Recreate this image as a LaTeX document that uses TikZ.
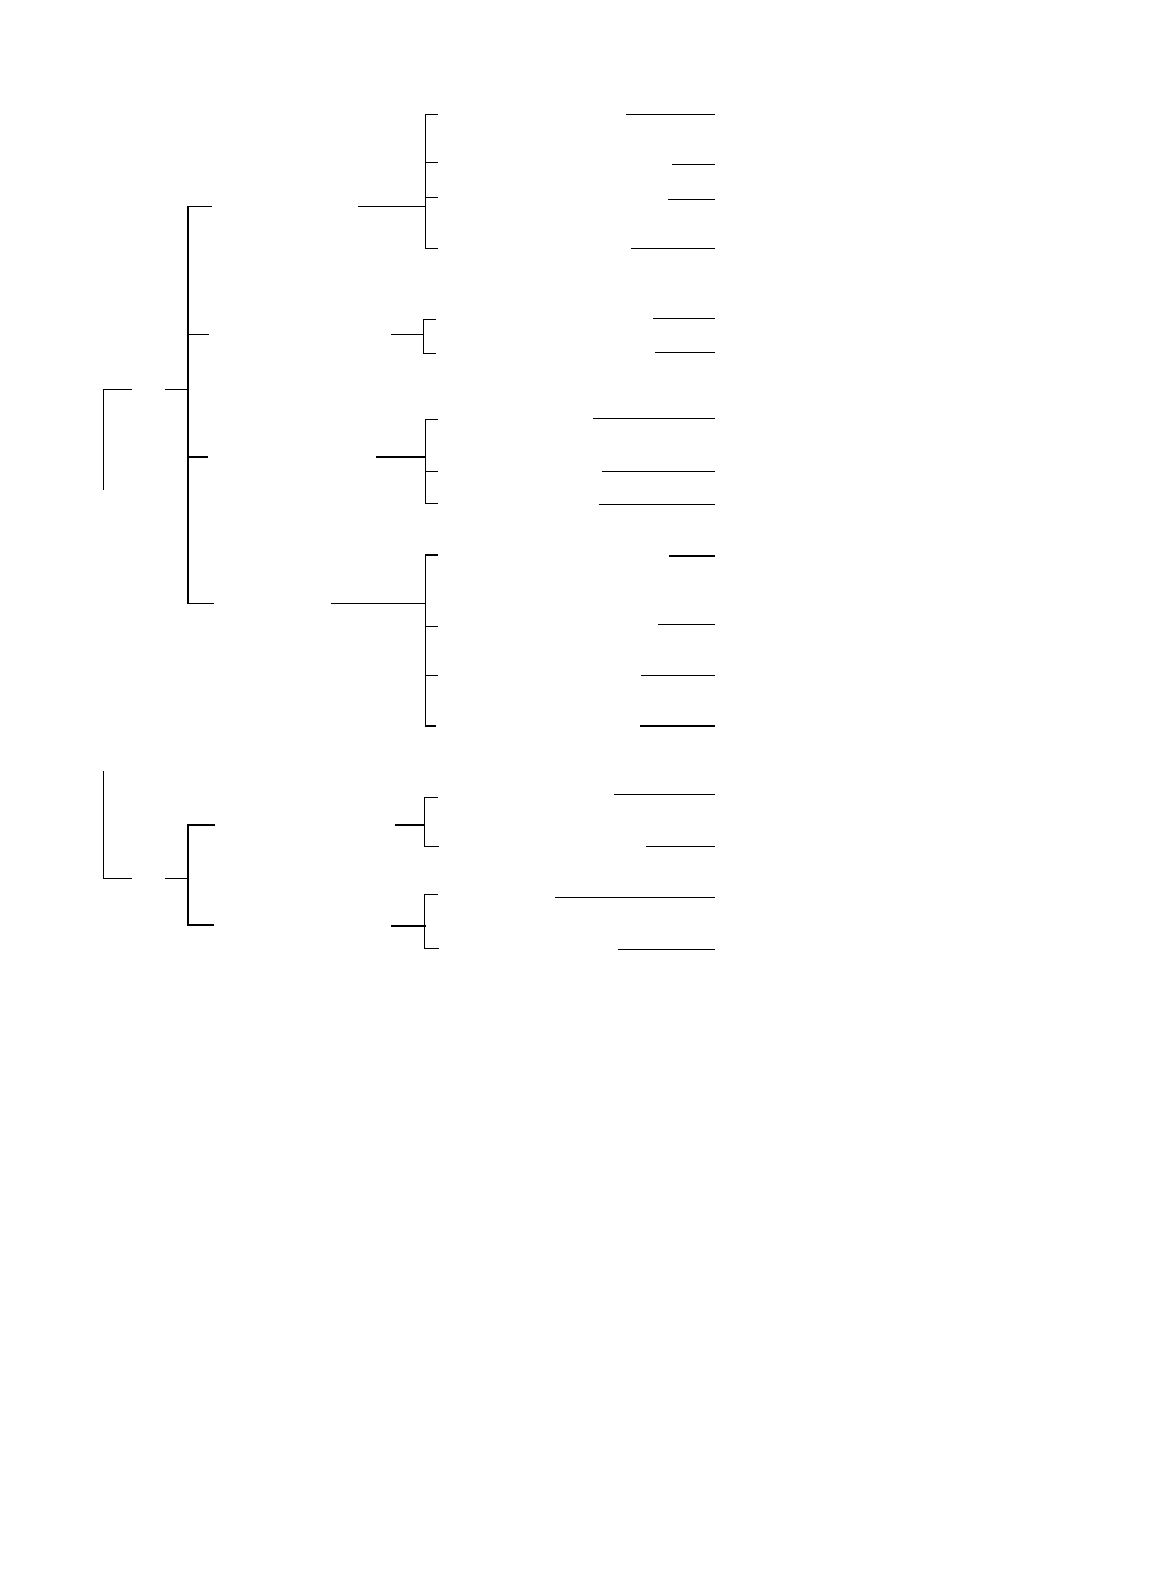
\documentclass[tikz,border=0pt]{standalone}
\begin{document}
\begin{tikzpicture}[x=1pt,y=-1pt,ln/.style={line width=1.2pt,line cap=butt}]
\useasboundingbox[fill=white] (0,0) rectangle (1152,1584);
\begin{scope}[scale=1.011]
% root 1
\draw[ln] (131,385) -- (102,385) -- (102,485);
\draw[ln] (163,385) -- (186,385);
\draw[ln] (210,204) -- (186,204) -- (186,597) -- (212,597);
\draw[ln] (186,331) -- (207,331);
\draw[ln] (186,452) -- (206,452);
% B1
\draw[ln] (354,204) -- (421,204);
\draw[ln] (433,113) -- (421,113) -- (421,246) -- (433,246);
\draw[ln] (421,161) -- (433,161);
\draw[ln] (421,195) -- (433,195);
% B2
\draw[ln] (387,331) -- (419,331);
\draw[ln] (431,316) -- (419,316) -- (419,350) -- (431,350);
% B3
\draw[ln] (372,452) -- (421,452);
\draw[ln] (433,415) -- (421,415) -- (421,498) -- (433,498);
\draw[ln] (421,466) -- (433,466);
% B4
\draw[ln] (327,597) -- (421,597);
\draw[ln] (433,549) -- (421,549) -- (421,718) -- (431,718);
\draw[ln] (421,620) -- (433,620);
\draw[ln] (421,668) -- (433,668);
% root 2
\draw[ln] (102,763) -- (102,869) -- (131,869);
\draw[ln] (163,869) -- (186,869);
\draw[ln] (213,816) -- (186,816) -- (186,915) -- (212,915);
% C1
\draw[ln] (391,816) -- (420,816);
\draw[ln] (433,789) -- (420,789) -- (420,837) -- (434,837);
% C2
\draw[ln] (387,916) -- (421,916);
\draw[ln] (433,885) -- (420,885) -- (420,938) -- (434,938);
% leaf lines
\foreach \y/\x in {113/619,163/665,197/661,246/624,315/646,349/648,414/587,466/595,499/592,550/662,618/651,668/634,718/633,786/607,837/639,888/549,939/611}
  \draw[ln] (\x,\y) -- (707,\y);
\end{scope}
\end{tikzpicture}
\end{document}
